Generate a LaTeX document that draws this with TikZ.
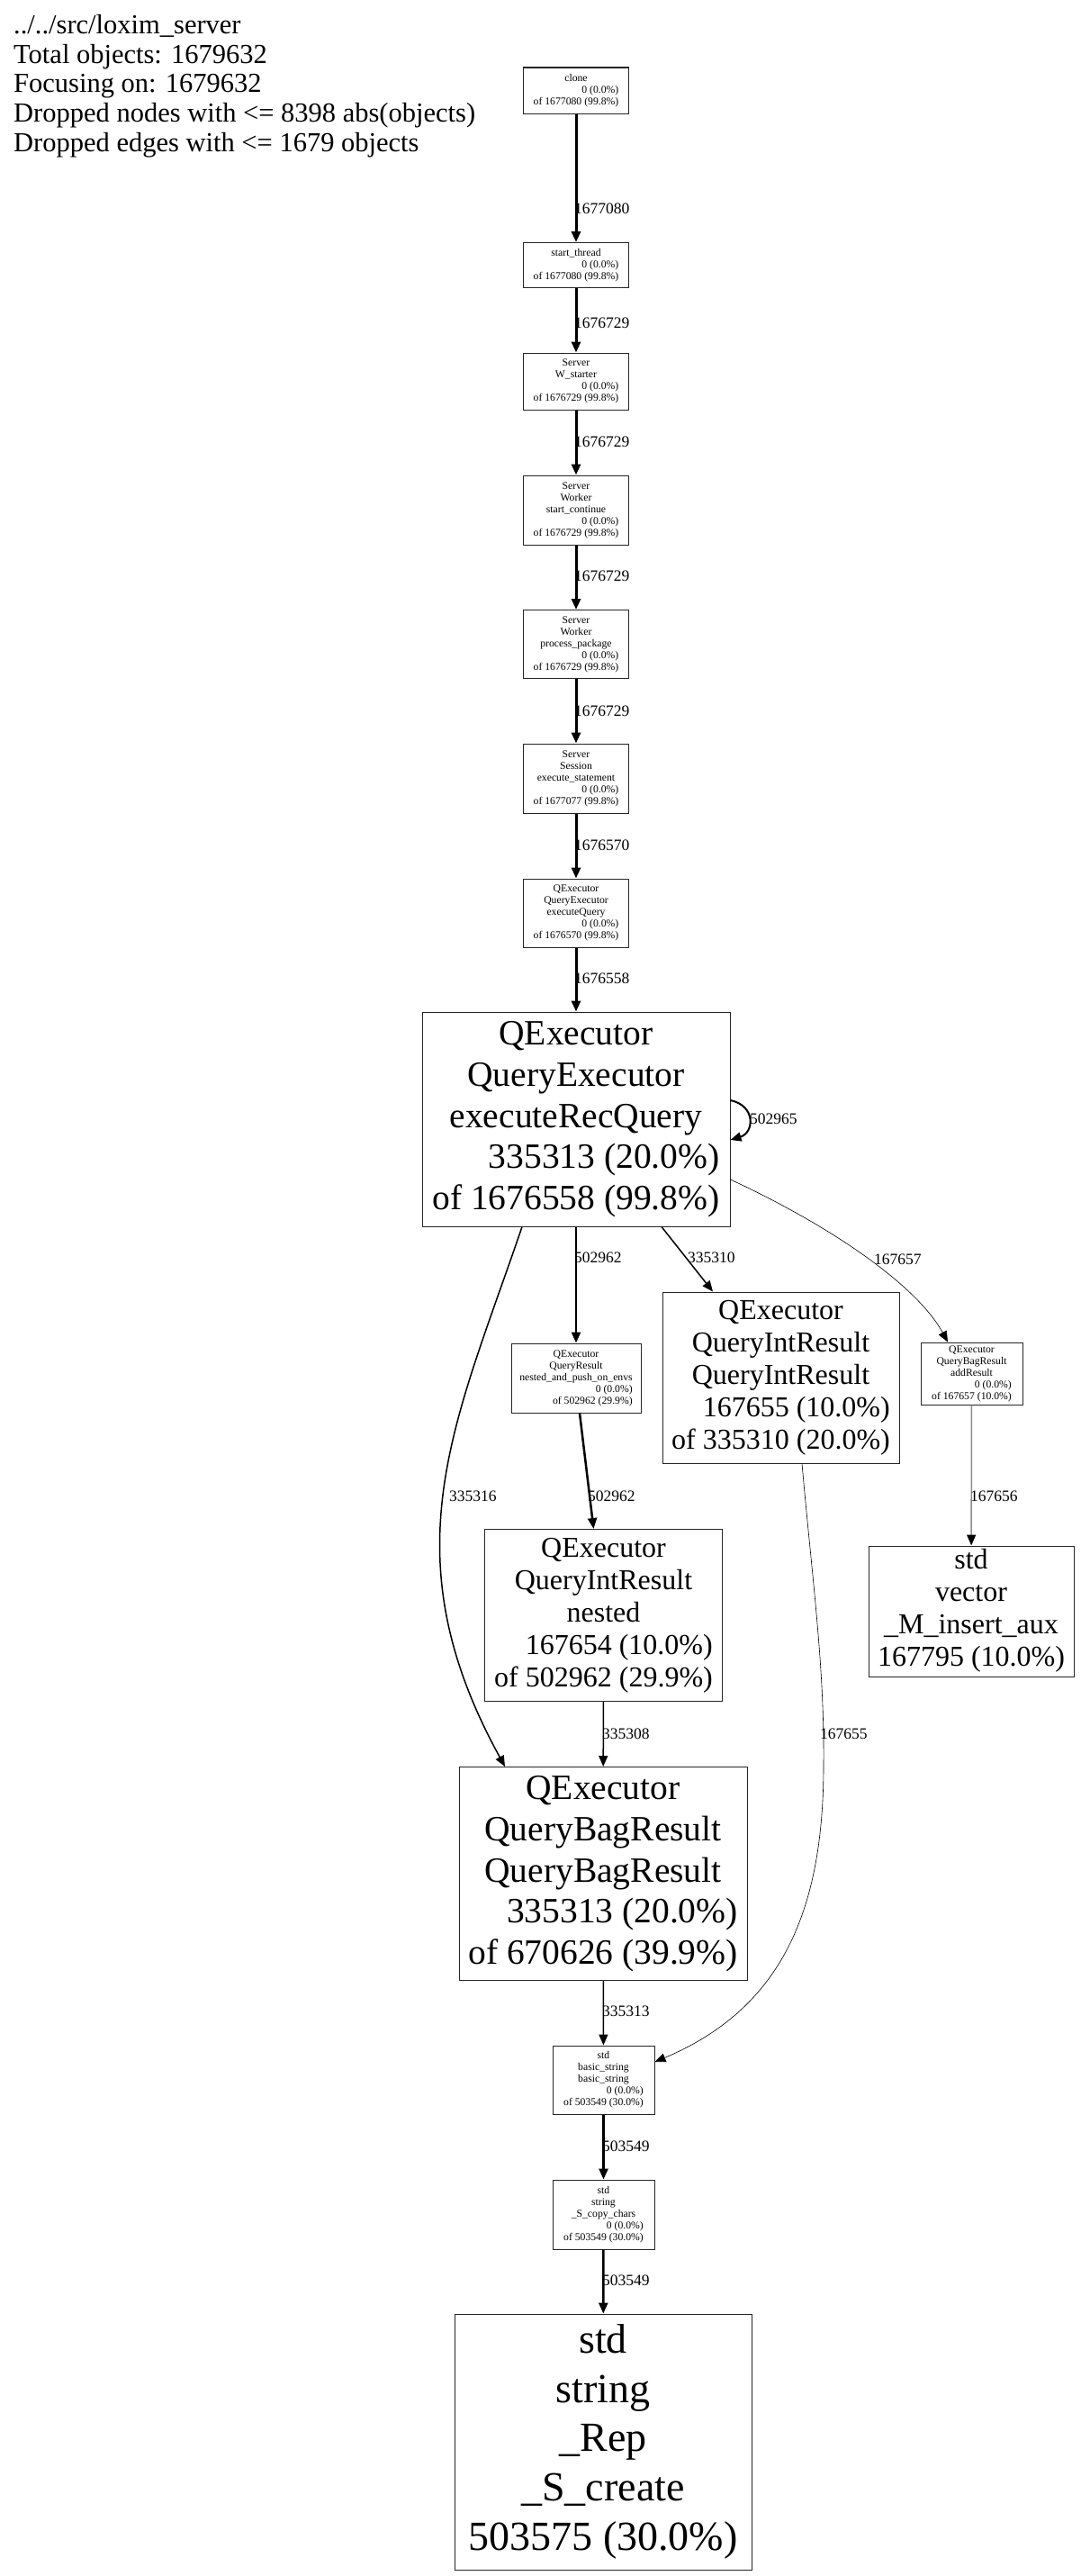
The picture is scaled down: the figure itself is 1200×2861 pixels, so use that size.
\documentclass[tikz,border=0pt]{standalone}
\usepackage{fontspec}
\setmainfont{Liberation Serif}
\usetikzlibrary{arrows.meta}

\tikzset{
  fnbox/.style={draw=black!85, line width=1pt, inner sep=0pt},
  smallfn/.style={fnbox, font=\fontsize{11.7}{13}\selectfont},
  midfn/.style={fnbox, font=\fontsize{32}{36}\selectfont},
  bigfn/.style={fnbox, font=\fontsize{39.5}{45.6}\selectfont},
  hugefn/.style={fnbox, font=\fontsize{46}{54.7}\selectfont},
  elab/.style={anchor=west, inner sep=0pt, font=\fontsize{17.5}{20}\selectfont},
  tip/.style={-{Triangle[length=12pt,width=10pt,color=black]}},
  heavy/.style={tip, line width=3pt},
  strong/.style={tip, line width=2.5pt},
  loopy/.style={tip, line width=2pt},
  medium/.style={tip, line width=1.5pt},
  faint/.style={tip, line width=0.6pt},
  greyed/.style={tip, line width=1.5pt, draw=black!45}
}
\newcommand{\fnlines}[1]{\begin{tabular}{@{}c@{}}#1\end{tabular}}
\newcommand{\rline}[1]{\multicolumn{1}{@{}r@{}}{#1}}

\begin{document}
\begin{tikzpicture}[x=1pt,y=1pt,yscale=-1,xscale=1]
\useasboundingbox (0,0) rectangle (1200,2861);

% Text Node
\draw (15,16) node [anchor=north west, align=left, inner sep=0pt, font=\fontsize{30.5}{32.8}\selectfont] (hdr) {../../src/loxim\_server\\Total objects: 1679632\\Focusing on: 1679632\\Dropped nodes with <= 8398 abs(objects)\\Dropped edges with <= 1679 objects};

% Text Node
\draw (640,100.5) node [smallfn, minimum width=117pt, minimum height=51pt] (clone) {\fnlines{clone\\ \rline{0 (0.0\%)}\\ of 1677080 (99.8\%)}};
% Text Node
\draw (640,294.5) node [smallfn, minimum width=117pt, minimum height=50pt] (st) {\fnlines{start\_thread\\ \rline{0 (0.0\%)}\\ of 1677080 (99.8\%)}};
% Text Node
\draw (640,423.5) node [smallfn, minimum width=117pt, minimum height=63pt] (ws) {\fnlines{Server\\ W\_starter\\ \rline{0 (0.0\%)}\\ of 1676729 (99.8\%)}};
% Text Node
\draw (640,566.5) node [smallfn, minimum width=117pt, minimum height=77pt] (sc) {\fnlines{Server\\ Worker\\ start\_continue\\ \rline{0 (0.0\%)}\\ of 1676729 (99.8\%)}};
% Text Node
\draw (640,715.5) node [smallfn, minimum width=117pt, minimum height=76pt] (pp) {\fnlines{Server\\ Worker\\ process\_package\\ \rline{0 (0.0\%)}\\ of 1676729 (99.8\%)}};
% Text Node
\draw (640,864.5) node [smallfn, minimum width=117pt, minimum height=77pt] (es) {\fnlines{Server\\ Session\\ execute\_statement\\ \rline{0 (0.0\%)}\\ of 1677077 (99.8\%)}};
% Text Node
\draw (640,1014) node [smallfn, minimum width=117pt, minimum height=76pt] (eq) {\fnlines{QExecutor\\ QueryExecutor\\ executeQuery\\ \rline{0 (0.0\%)}\\ of 1676570 (99.8\%)}};
% Text Node
\draw (640,1243) node [bigfn, minimum width=342pt, minimum height=238pt] (rq) {\fnlines{QExecutor\\ QueryExecutor\\ executeRecQuery\\ \rline{335313 (20.0\%)}\\ of 1676558 (99.8\%)}};
% Text Node
\draw (640,1530.5) node [smallfn, minimum width=144pt, minimum height=77pt] (nap) {\fnlines{QExecutor\\ QueryResult\\ nested\_and\_push\_on\_envs\\ \rline{0 (0.0\%)}\\ \rline{of 502962 (29.9\%)}}};
% Text Node
\draw (867.5,1530) node [midfn, minimum width=263pt, minimum height=190pt] (qir) {\fnlines{QExecutor\\ QueryIntResult\\ QueryIntResult\\ \rline{167655 (10.0\%)}\\ of 335310 (20.0\%)}};
% Text Node
\draw (1079.5,1525.5) node [smallfn, minimum width=113pt, minimum height=69pt] (ar) {\fnlines{QExecutor\\ QueryBagResult\\ addResult\\ \rline{0 (0.0\%)}\\ of 167657 (10.0\%)}};
% Text Node
\draw (670.5,1794) node [midfn, minimum width=264pt, minimum height=191pt] (nst) {\fnlines{QExecutor\\ QueryIntResult\\ nested\\ \rline{167654 (10.0\%)}\\ of 502962 (29.9\%)}};
% Text Node
\draw (1079,1789.5) node [midfn, minimum width=228pt, minimum height=145pt] (vec) {\fnlines{std\\ vector\\ \_M\_insert\_aux\\ 167795 (10.0\%)}};
% Text Node
\draw (670,2081) node [bigfn, minimum width=320pt, minimum height=237pt] (qbr) {\fnlines{QExecutor\\ QueryBagResult\\ QueryBagResult\\ \rline{335313 (20.0\%)}\\ of 670626 (39.9\%)}};
% Text Node
\draw (670.5,2310) node [smallfn, minimum width=113pt, minimum height=76pt] (bs) {\fnlines{std\\ basic\_string\\ basic\_string\\ \rline{0 (0.0\%)}\\ of 503549 (30.0\%)}};
% Text Node
\draw (670.5,2459.5) node [smallfn, minimum width=113pt, minimum height=77pt] (scc) {\fnlines{std\\ string\\ \_S\_copy\_chars\\ \rline{0 (0.0\%)}\\ of 503549 (30.0\%)}};
% Text Node
\draw (670,2712) node [hugefn, minimum width=330pt, minimum height=284pt] (rep) {\fnlines{std\\ string\\ \_Rep\\ \_S\_create\\ 503575 (30.0\%)}};

%Straight Lines
\draw [heavy] (clone) -- (st);
%Straight Lines
\draw [heavy] (st) -- (ws);
%Straight Lines
\draw [heavy] (ws) -- (sc);
%Straight Lines
\draw [heavy] (sc) -- (pp);
%Straight Lines
\draw [heavy] (pp) -- (es);
%Straight Lines
\draw [heavy] (es) -- (eq);
%Straight Lines
\draw [heavy] (eq) -- (rq);
%Curve Lines
\draw [loopy] ([yshift=-21pt]rq.east) .. controls (840,1228) and (838,1258) .. ([yshift=23pt]rq.east);
%Straight Lines
\draw [strong] (rq) -- (nap);
%Straight Lines
\draw [medium] ([xshift=95pt]rq.south) -- ([xshift=-75.5pt]qir.north);
%Curve Lines
\draw [faint] ([yshift=67pt]rq.east) .. controls (930,1365) and (1020,1430) .. ([xshift=-26.5pt]ar.north);
%Curve Lines
\draw [medium] ([xshift=-60pt]rq.south) .. controls (506,1580) and (430,1724) .. ([xshift=-109pt]qbr.north);
%Straight Lines
\draw [strong] ([xshift=4pt]nap.south) -- ([xshift=-11pt]nst.north);
%Straight Lines
\draw [greyed] (ar) -- (vec);
%Straight Lines
\draw [medium] (nst) -- (qbr);
%Curve Lines
\draw [faint] ([xshift=23.5pt]qir.south) .. controls (903,1760) and (916,1850) .. (915,1960) .. controls (915,2120) and (870,2230) .. ([yshift=-20pt]bs.east);
%Straight Lines
\draw [medium] (qbr) -- (bs);
%Straight Lines
\draw [strong] (bs) -- (scc);
%Straight Lines
\draw [strong] (scc) -- (rep);

% Text Node
\draw (638,232) node [elab] (e1) {1677080};
% Text Node
\draw (638,359) node [elab] (e2) {1676729};
% Text Node
\draw (638,491) node [elab] (e3) {1676729};
% Text Node
\draw (638,640) node [elab] (e4) {1676729};
% Text Node
\draw (638,790) node [elab] (e5) {1676729};
% Text Node
\draw (638,939) node [elab] (e6) {1676570};
% Text Node
\draw (638,1087) node [elab] (e7) {1676558};
% Text Node
\draw (833,1243) node [elab] (e8) {502965};
% Text Node
\draw (638,1397) node [elab] (e9) {502962};
% Text Node
\draw (764,1397) node [elab] (e10) {335310};
% Text Node
\draw (971,1399) node [elab] (e11) {167657};
% Text Node
\draw (499,1662) node [elab] (e12) {335316};
% Text Node
\draw (653,1662) node [elab] (e13) {502962};
% Text Node
\draw (1078,1662) node [elab] (e14) {167656};
% Text Node
\draw (669,1926) node [elab] (e15) {335308};
% Text Node
\draw (911,1926) node [elab] (e16) {167655};
% Text Node
\draw (669,2234) node [elab] (e17) {335313};
% Text Node
\draw (669,2384) node [elab] (e18) {503549};
% Text Node
\draw (669,2533) node [elab] (e19) {503549};

\end{tikzpicture}
\end{document}
